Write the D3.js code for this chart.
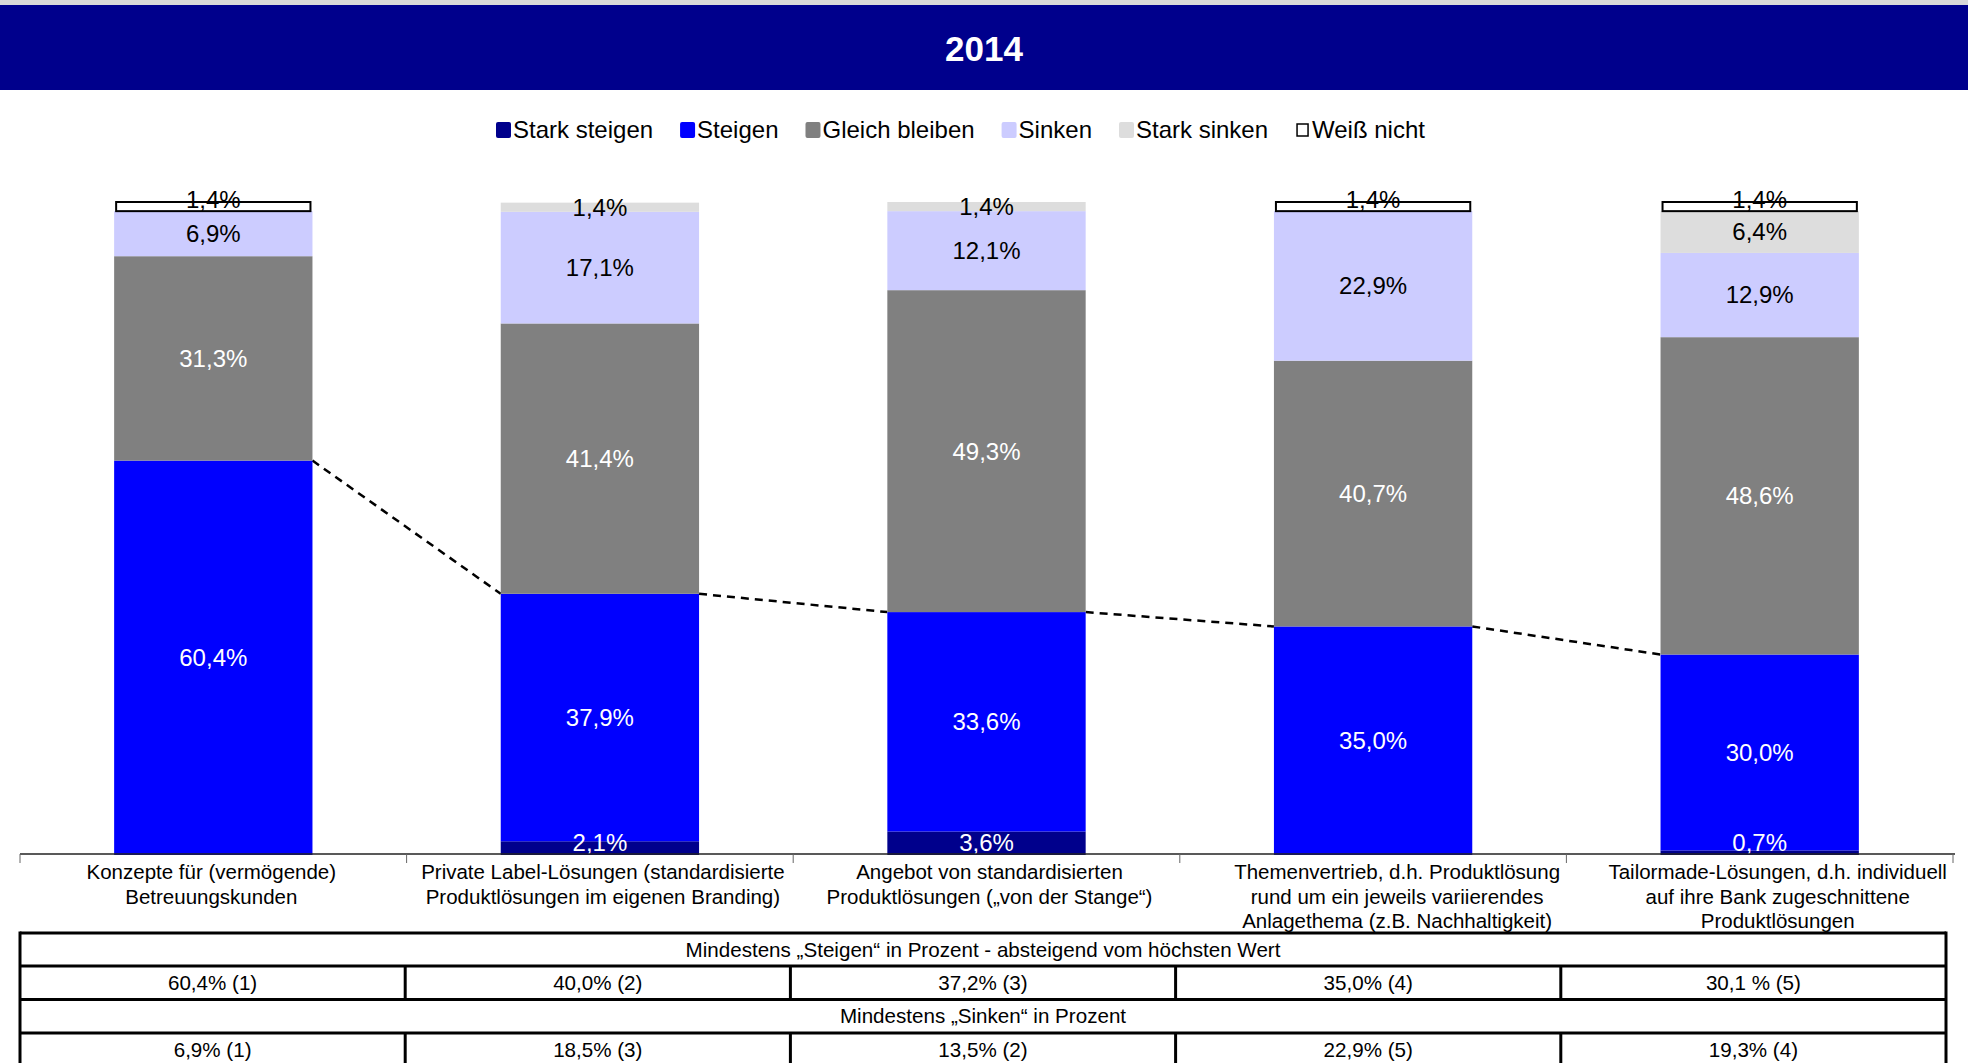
<!DOCTYPE html>
<html>
<head>
<meta charset="utf-8">
<script src="https://cdn.jsdelivr.net/npm/d3@7"></script>
<style>
    body { margin: 0; background: #fff; }
    svg { display: block; font-family: "Liberation Sans", Arial, sans-serif; }
</style>
</head>
<body>
<div id="chart"></div>
<script>
// Chart data
const title = "2014";
const categories = [
    ["Konzepte für (vermögende)", "Betreuungskunden"],
    ["Private Label-Lösungen (standardisierte", "Produktlösungen im eigenen Branding)"],
    ["Angebot von standardisierten", "Produktlösungen („von der Stange“)"],
    ["Themenvertrieb, d.h. Produktlösung", "rund um ein jeweils variierendes", "Anlagethema (z.B. Nachhaltigkeit)"],
    ["Tailormade-Lösungen, d.h. individuell", "auf ihre Bank zugeschnittene", "Produktlösungen"]
];
const seriesNames = ["Stark steigen", "Steigen", "Gleich bleiben", "Sinken", "Stark sinken", "Weiß nicht"];
const starkSteigen = [0, 2.1, 3.6, 0, 0.7];
const steigen = [60.4, 37.9, 33.6, 35.0, 30.0];
const gleichBleiben = [31.3, 41.4, 49.3, 40.7, 48.6];
const sinken = [6.9, 17.1, 12.1, 22.9, 12.9];
const starkSinken = [0, 1.4, 1.4, 0, 6.4];
const weissNicht = [1.4, 0, 0, 1.4, 1.4];

const tableHead1 = "Mindestens „Steigen“ in Prozent - absteigend vom höchsten Wert";
const tableRow1 = ["60,4% (1)", "40,0% (2)", "37,2% (3)", "35,0% (4)", "30,1 % (5)"];
const tableHead2 = "Mindestens „Sinken“ in Prozent";
const tableRow2 = ["6,9% (1)", "18,5% (3)", "13,5% (2)", "22,9% (5)", "19,3% (4)"];

const colors = ["#00008c", "#0000ff", "#808080", "#ccccff", "#dddddd", "#ffffff"];
const labelColors = ["#fff", "#fff", "#fff", "#000", "#000", "#000"];

// small horizontal nudges of the category labels, as in the original layout
const labelShift = [-2, 3, 3, 24, 18];

const width = 1968, height = 1063;
const fmt = v => v.toFixed(1).replace(".", ",") + "%";

const svg = d3.select("#chart").append("svg")
    .attr("width", width)
    .attr("height", height);

// Header band
svg.append("rect").attr("x", 0).attr("y", 0).attr("width", width).attr("height", 5).attr("fill", "#d9d9d9");
svg.append("rect").attr("x", 0).attr("y", 5).attr("width", width).attr("height", 85).attr("fill", "#00008c");
svg.append("text")
    .attr("x", width / 2).attr("y", 48)
    .attr("text-anchor", "middle").attr("dominant-baseline", "central")
    .attr("fill", "#fff").attr("font-size", 35).attr("font-weight", "bold")
    .text(title);

// Legend
const legend = svg.append("g").attr("font-size", 24);
let lx = 496;
seriesNames.forEach((name, i) => {
    const item = legend.append("g").attr("transform", `translate(${lx},130)`);
    if (i === 5) {
        item.append("rect").attr("x", 2).attr("y", -6).attr("width", 11).attr("height", 12)
            .attr("fill", "#fff").attr("stroke", "#000").attr("stroke-width", 1.5);
    } else {
        item.append("rect").attr("x", 0).attr("y", -8).attr("width", 15).attr("height", 16)
            .attr("rx", 2).attr("fill", colors[i]);
    }
    const t = item.append("text").attr("x", 17).attr("dy", "0.35em").attr("fill", "#000").text(name);
    lx += 17 + t.node().getComputedTextLength() + 27;
});

// Scales
const idx = d3.range(categories.length);
const x = d3.scaleBand().domain(idx).range([20, 1953]).paddingInner(0.487).paddingOuter(0.2435);
const xCell = d3.scaleBand().domain(idx).range([20, 1953]);
const y = d3.scaleLinear().domain([0, 100]).range([855, 202]);

const rows = idx.map(i => ({
    i: i,
    v: [starkSteigen[i], steigen[i], gleichBleiben[i], sinken[i], starkSinken[i], weissNicht[i]]
}));
const stack = d3.stack().keys(d3.range(6)).value((d, k) => d.v[k]);
const layers = stack(rows);

const chart = svg.append("g");

// Series lines (top of "Steigen")
const lineG = chart.append("g");
for (let i = 0; i < rows.length - 1; i++) {
    lineG.append("line")
        .attr("x1", x(i) + x.bandwidth()).attr("y1", y(layers[1][i][1]))
        .attr("x2", x(i + 1)).attr("y2", y(layers[1][i + 1][1]))
        .attr("stroke", "#000").attr("stroke-width", 2.5).attr("stroke-dasharray", "8,6");
}

// Bars
layers.forEach((layer, k) => {
    const inset = k === 5 ? 2 : 0;
    chart.append("g").selectAll("rect")
        .data(layer.filter(d => d[1] - d[0] > 0))
        .enter().append("rect")
        .attr("x", d => x(d.data.i) + inset)
        .attr("y", d => y(d[1]))
        .attr("width", x.bandwidth() - 2 * inset)
        .attr("height", d => y(d[0]) - y(d[1]))
        .attr("fill", colors[k])
        .attr("stroke", k === 5 ? "#000" : "none")
        .attr("stroke-width", 2);
});

// Value labels
layers.forEach((layer, k) => {
    chart.append("g").selectAll("text")
        .data(layer.filter(d => d[1] - d[0] > 0))
        .enter().append("text")
        .attr("x", d => x(d.data.i) + x.bandwidth() / 2)
        .attr("y", d => {
            let ly = y((d[0] + d[1]) / 2);
            if (k === 5) ly -= 7;
            return Math.min(ly, y(0) - 12);
        })
        .attr("text-anchor", "middle").attr("dy", "0.35em")
        .attr("font-size", 24)
        .attr("fill", labelColors[k])
        .text(d => fmt(d[1] - d[0]));
});

// X axis
const axisY = y(0) - 1;
chart.append("line").attr("x1", 20).attr("x2", 1955).attr("y1", axisY).attr("y2", axisY)
    .attr("stroke", "#222").attr("stroke-width", 1.3);
chart.append("g").selectAll("line")
    .data(d3.range(categories.length + 1))
    .enter().append("line")
    .attr("x1", i => 20 + i * xCell.step()).attr("x2", i => 20 + i * xCell.step())
    .attr("y1", axisY).attr("y2", axisY + 9)
    .attr("stroke", "#666").attr("stroke-width", 1);

chart.append("g").selectAll("text")
    .data(idx)
    .enter().append("text")
    .attr("y", 872)
    .attr("text-anchor", "middle").attr("font-size", 20.5).attr("fill", "#000")
    .each(function (i) {
        const t = d3.select(this);
        const cx = xCell(i) + xCell.bandwidth() / 2 + labelShift[i];
        categories[i].forEach((line, j) => {
            t.append("tspan").attr("x", cx)
                .attr("dy", j === 0 ? "0.35em" : 24.5).text(line);
        });
    });

// Table
const tx = d3.scaleBand().domain(idx).range([20, 1946]);
const rowY = [933, 966, 999.5, 1033, 1067];
const table = svg.append("g").attr("font-size", 20.6).attr("fill", "#000");
const tableLines = [[tableHead1], tableRow1, [tableHead2], tableRow2];
tableLines.forEach((cells, r) => {
    if (cells.length === 1) {
        table.append("text").attr("x", (20 + 1946) / 2).attr("y", (rowY[r] + rowY[r + 1]) / 2)
            .attr("text-anchor", "middle").attr("dy", "0.35em").text(cells[0]);
    } else {
        table.append("g").selectAll("text").data(cells).enter().append("text")
            .attr("x", (d, i) => tx(i) + tx.bandwidth() / 2)
            .attr("y", (rowY[r] + rowY[r + 1]) / 2)
            .attr("text-anchor", "middle").attr("dy", "0.35em").text(d => d);
        table.append("g").selectAll("line").data(idx.slice(1)).enter().append("line")
            .attr("x1", i => tx(i)).attr("x2", i => tx(i))
            .attr("y1", rowY[r]).attr("y2", rowY[r + 1])
            .attr("stroke", "#000").attr("stroke-width", 3);
    }
});
table.append("g").selectAll("line").data(rowY.slice(0, 4)).enter().append("line")
    .attr("x1", 20).attr("x2", 1946).attr("y1", d => d).attr("y2", d => d)
    .attr("stroke", "#000").attr("stroke-width", 3);
[20, 1946].forEach(xx => {
    table.append("line").attr("x1", xx).attr("x2", xx).attr("y1", rowY[0] - 1.5).attr("y2", height)
        .attr("stroke", "#000").attr("stroke-width", 3);
});
</script>
</body>
</html>
